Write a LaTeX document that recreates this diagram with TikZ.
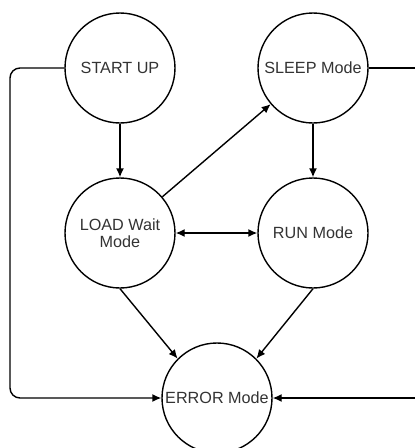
\documentclass[tikz,border=0pt]{standalone}
\usepackage{fontspec}
\setmainfont{Liberation Sans}
\usetikzlibrary{arrows.meta}
\begin{document}
\begin{tikzpicture}[x=1pt,y=-1pt,
  state/.style={circle,draw=black,line width=1.4pt,minimum size=110pt,inner sep=0pt,
    align=center,font=\fontsize{16.2}{17.5}\selectfont,text=black!80},
  link/.style={draw=black,line width=1.4pt},
  tip/.style={-{Latex[length=9pt,width=8pt]}}]
  \clip (0,0) rectangle (415,448);
  \useasboundingbox (0,0) rectangle (415,448);

  % states
  \node[state] (start) at (120,68) {START UP};
  \node[state] (sleep) at (313,68) {SLEEP Mode};
  \node[state] (load)  at (120,233) {LOAD Wait\\Mode};
  \node[state] (run)   at (313,233) {RUN Mode};
  \node[state] (error) at (217,398) {ERROR Mode};

  % outer return paths
  \coordinate (lt) at (10,68);
  \coordinate (lb) at (10,398);
  \coordinate (rt) at (430,68);
  \coordinate (rb) at (430,398);

  % transitions
  \draw[link,tip] (start.south) -- (load.north);
  \draw[link,tip] (sleep.south) -- (run.north);
  \draw[link,tip] (load) -- (sleep);
  \draw[link,{Latex[length=9pt,width=8pt]}-{Latex[length=9pt,width=8pt]}] (load.east) -- (run.west);
  \draw[link,tip] (load.south) -- (error.135);
  \draw[link,tip] (run.south) -- (error.45);
  \draw[link,tip,rounded corners=10pt] (start.west) -- (lt) -- (lb) -- (error.west);
  \draw[link,tip] (sleep.east) -- (rt) -- (rb) -- (error.east);
\end{tikzpicture}
\end{document}
